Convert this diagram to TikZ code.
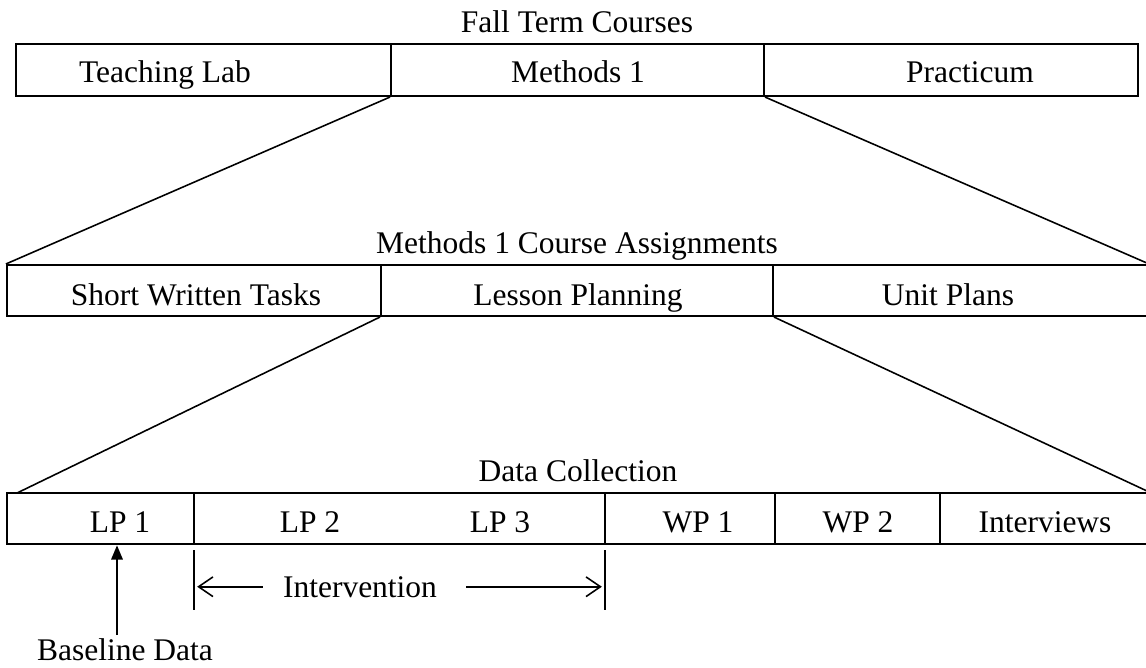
\documentclass[tikz,border=0pt]{standalone}
\usepackage{fontspec}
\setmainfont{Liberation Serif}
\usetikzlibrary{arrows.meta,positioning,fit}

\begin{document}
\begin{tikzpicture}[x=0.381pt,y=-0.381pt,font=\fontsize{12pt}{14pt}\selectfont,
	cell/.style={draw,line width=0.8pt,inner sep=0pt},
	txt/.style={anchor=base,inner sep=0pt},
	fan/.style={line width=0.6pt},
	tick/.style={line width=0.6pt},
	barb/.style={line width=0.6pt,-{Straight Barb[length=5.5pt,width=7.5pt]}},
	basearrow/.style={line width=1.1pt,-{Triangle[length=5.5pt,width=4.2pt]}}]
	\useasboundingbox (0,0) rectangle (1146,667);

% fall term
\node[txt] (falltitle) at (577,32) {Fall Term Courses};
\node[cell,fit={(16,44)(391,96)}] (lab) {};
\node[cell,fit={(391,44)(764,96)}] (meth) {};
\node[cell,fit={(764,44)(1138,96)}] (prac) {};
\node[txt] (labtxt) at (165,82) {Teaching Lab};
\node[txt] (methtxt) at (578,82) {Methods 1};
\node[txt] (practxt) at (970,82) {Practicum};

% methods 1 assignments
\node[txt] (asgtitle) at (577,253) {Methods 1 Course Assignments};
\node[cell,fit={(7,265)(381,316)}] (short) {};
\node[cell,fit={(381,265)(773,316)}] (lesson) {};
\node[cell,fit={(773,265)(1148,316)}] (unit) {};
\node[txt] (shorttxt) at (196,305) {Short Written Tasks};
\node[txt] (lessontxt) at (578,305) {Lesson Planning};
\node[txt] (unittxt) at (948,305) {Unit Plans};

\draw[fan] (meth.south west) -- (short.north west);
\draw[fan] (meth.south east) -- (unit.north east);

% data collection
\node[txt] (dctitle) at (578,481) {Data Collection};
\node[cell,fit={(7,493)(194,544)}] (lpone) {};
\node[cell,fit={(194,493)(605,544)}] (lpmid) {};
\node[cell,fit={(605,493)(775,544)}] (wpone) {};
\node[cell,fit={(775,493)(940,544)}] (wptwo) {};
\node[cell,fit={(940,493)(1148,544)}] (intv) {};
\node[txt] (lponetxt) at (120,532) {LP 1};
\node[txt] (lptwotxt) at (310,532) {LP 2};
\node[txt] (lpthreetxt) at (500,532) {LP 3};
\node[txt] (wponetxt) at (698,532) {WP 1};
\node[txt] (wptwotxt) at (858,532) {WP 2};
\node[txt] (intvtxt) at (1045,532) {Interviews};

\coordinate (dcleft) at (17,493);
\draw[fan] (lesson.south west) -- (dcleft);
\draw[fan] (lesson.south east) -- (intv.north east);

% intervention
\coordinate (tickA) at (194,550);
\coordinate (tickB) at (605,550);
\draw[tick] (tickA) -- ++(0,60);
\draw[tick] (tickB) -- ++(0,60);
\node[txt] (ivtxt) at (360,597) {Intervention};
\draw[barb] ([xshift=-7.6pt]ivtxt.west) -- ([xshift=1.2pt]tickA |- ivtxt.west);
\draw[barb] ([xshift=11pt]ivtxt.east) -- ([xshift=-1.2pt]tickB |- ivtxt.east);

% baseline
\node[txt] (basetxt) at (125,660) {Baseline Data};
\coordinate (basefoot) at (117,635);
\draw[basearrow] (basefoot) -- (basefoot |- lpone.south);

	\end{tikzpicture}
\end{document}
